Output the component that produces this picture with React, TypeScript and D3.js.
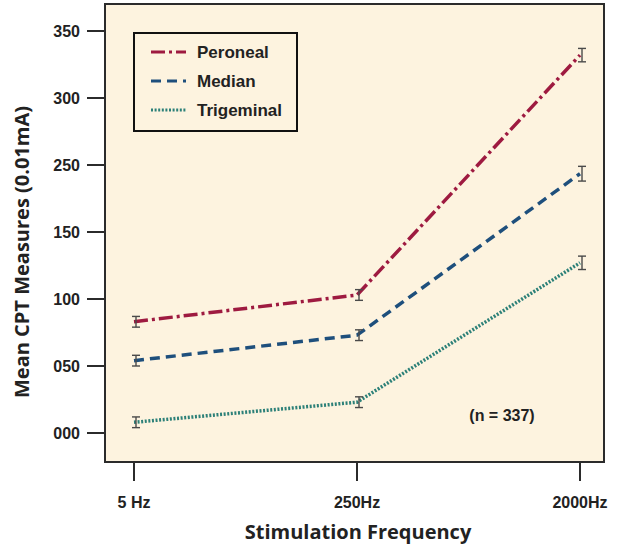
import React from "react";
import * as d3 from "d3";

const categories = ["5 Hz", "250Hz", "2000Hz"];
const yTickValues = [0, 50, 100, 150, 250, 300, 350];
const seriesNames = ["Peroneal", "Median", "Trigeminal"];
const peronealValues = [83, 103, 332];
const medianValues = [54, 73, 237];
const trigeminalValues = [8, 23, 127];
const peronealErr = [4, 4, 5];
const medianErr = [4, 4, 11];
const trigeminalErr = [4, 4, 5];

const W = 623;
const H = 545;
const box = { left: 105, top: 4, right: 604, bottom: 462 };

const series = [
  { name: seriesNames[0], values: peronealValues, err: peronealErr, color: "#9e1a40", dash: "14,4,3,4", width: 3.5 },
  { name: seriesNames[1], values: medianValues, err: medianErr, color: "#1e4f7c", dash: "10,6", width: 3.5 },
  { name: seriesNames[2], values: trigeminalValues, err: trigeminalErr, color: "#2c8078", dash: "2,1.6", width: 3.5 },
];

export default function App() {
  const x = d3.scalePoint<string>().domain(categories).range([134, 580]);
  // piecewise-linear scale following the axis labels as printed
  const y = d3
    .scaleLinear()
    .domain(yTickValues)
    .range([433, 366, 299, 232, 165, 98, 31]);
  const fmt = d3.format("03d");
  const line = d3
    .line<number>()
    .x((_, i) => x(categories[i]) as number)
    .y((d) => y(d));

  const labelFont = "'Liberation Sans', Arial, Helvetica, sans-serif";
  const titleFont = "'Open Sans', 'Noto Sans', sans-serif";

  return (
    <div style={{ position: "absolute", left: 0, top: 0 }}>
      <svg width={W} height={H} viewBox={`0 0 ${W} ${H}`}>
        <rect x={0} y={0} width={W} height={H} fill="#ffffff" />
        <rect
          x={box.left}
          y={box.top}
          width={box.right - box.left}
          height={box.bottom - box.top}
          fill="#fdf3df"
          stroke="#2b2b2b"
          strokeWidth={2}
        />
        {/* y axis */}
        {yTickValues.map((v) => (
          <g key={v}>
            <line x1={87} x2={box.left} y1={y(v)} y2={y(v)} stroke="#2b2b2b" strokeWidth={2} />
            <text
              x={80}
              y={y(v)}
              dy="0.35em"
              textAnchor="end"
              fontFamily={labelFont}
              fontWeight="bold"
              fontSize={16}
              fill="#222"
            >
              {fmt(v)}
            </text>
          </g>
        ))}
        {/* x axis */}
        {categories.map((c) => (
          <g key={c}>
            <line x1={x(c)} x2={x(c)} y1={box.bottom} y2={481} stroke="#2b2b2b" strokeWidth={2} />
            <text
              x={x(c)}
              y={502}
              dy="0.35em"
              textAnchor="middle"
              fontFamily={labelFont}
              fontWeight="bold"
              fontSize={16}
              fill="#222"
            >
              {c}
            </text>
          </g>
        ))}
        <text
          x={358}
          y={532}
          dy="0.35em"
          textAnchor="middle"
          fontFamily={titleFont}
          fontWeight={700}
          fontSize={20}
          fill="#222"
        >
          Stimulation Frequency
        </text>
        <text
          transform={`translate(22,252) rotate(-90)`}
          textAnchor="middle"
          dy="0.35em"
          fontFamily={titleFont}
          fontWeight={700}
          fontSize={20}
          fill="#222"
        >
          Mean CPT Measures (0.01mA)
        </text>
        {/* series */}
        {series.map((s) => (
          <g key={s.name}>
            <path
              d={line(s.values) as string}
              fill="none"
              stroke={s.color}
              strokeWidth={s.width}
              strokeDasharray={s.dash}
            />
            {s.values.map((v, i) => {
              const cx = (x(categories[i]) as number) + 2;
              const y1 = y(v - s.err[i]);
              const y2 = y(v + s.err[i]);
              return (
                <g key={i} stroke="#4a4a4a" strokeWidth={1.4}>
                  <line x1={cx} x2={cx} y1={y1} y2={y2} />
                  <line x1={cx - 4} x2={cx + 4} y1={y1} y2={y1} />
                  <line x1={cx - 4} x2={cx + 4} y1={y2} y2={y2} />
                </g>
              );
            })}
          </g>
        ))}
        {/* legend */}
        <rect x={134} y={33} width={163} height={98} fill="#fdf3df" stroke="#111" strokeWidth={2} />
        {series.map((s, i) => {
          const ly = 52 + i * 29;
          return (
            <g key={s.name}>
              <line x1={151} x2={186} y1={ly} y2={ly} stroke={s.color} strokeWidth={3} strokeDasharray={s.dash} />
              <text
                x={197}
                y={ly}
                dy="0.35em"
                fontFamily={labelFont}
                fontWeight="bold"
                fontSize={17}
                fill="#222"
              >
                {s.name}
              </text>
            </g>
          );
        })}
        <text
          x={502}
          y={415}
          dy="0.35em"
          textAnchor="middle"
          fontFamily={labelFont}
          fontWeight="bold"
          fontSize={16}
          fill="#222"
        >
          (n = 337)
        </text>
      </svg>
    </div>
  );
}
